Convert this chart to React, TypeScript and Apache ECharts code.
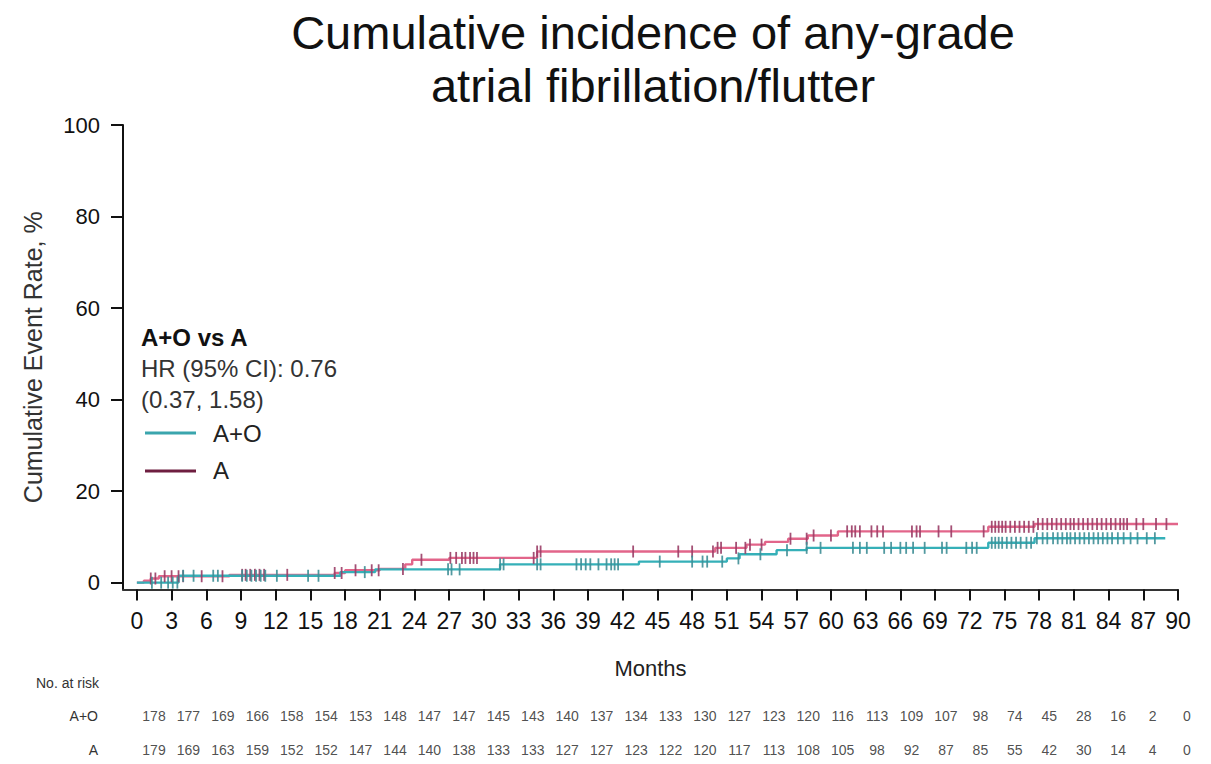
import React, { useEffect, useRef } from "react";
import * as echarts from "echarts";

// ---- tick labels ----
const xTicks = [0, 3, 6, 9, 12, 15, 18, 21, 24, 27, 30, 33, 36, 39, 42, 45, 48, 51, 54, 57, 60, 63, 66, 69, 72, 75, 78, 81, 84, 87, 90];
const yTicks = [0, 20, 40, 60, 80, 100];

// ---- step curves (time in months, cumulative event rate %) ----
const aoStepTimes = [0, 3.6, 17.6, 20.6, 31.4, 43.4, 51.0, 52.1, 55.3, 57.9, 73.6, 77.6];
const aoStepValues = [0, 1.5, 2.3, 2.9, 4.0, 4.6, 5.3, 6.2, 7.1, 7.6, 8.7, 9.7];
const aoEnd = 88.9;

const aStepTimes = [0, 0.6, 1.2, 1.9, 8.0, 17.1, 18.0, 21.0, 23.2, 23.8, 27.0, 34.6, 50.0, 52.7, 54.3, 56.3, 58.0, 60.6, 73.6, 77.6];
const aStepValues = [0, 0.4, 0.9, 1.4, 1.7, 2.1, 2.7, 3.0, 4.0, 5.0, 5.4, 6.8, 7.6, 8.3, 8.9, 9.6, 10.3, 11.2, 12.2, 12.8];
const aEnd = 90;

// ---- censoring times ----
const aoCensor = [1.3, 2.1, 2.7, 3.1, 3.5, 4.0, 4.9, 6.6, 7.0, 9.1, 9.5, 9.9, 10.3, 10.7, 11.1, 12.1, 14.8, 15.7, 19.7, 26.9, 27.2, 27.9, 31.4, 31.7, 34.6, 34.9, 38.0, 38.4, 38.8, 39.2, 39.9, 40.6, 41.0, 41.3, 41.6, 45.2, 48.0, 48.9, 49.3, 50.6, 52.0, 53.9, 56.2, 57.9, 59.1, 61.9, 62.5, 63.1, 64.6, 65.2, 66.0, 66.5, 67.1, 68.1, 69.6, 70.0, 71.7, 72.2, 72.6, 73.9, 74.2, 74.5, 74.8, 75.2, 75.6, 76.0, 76.4, 76.9, 77.3, 77.8, 78.3, 78.7, 79.2, 79.6, 80.0, 80.4, 80.7, 81.1, 81.5, 81.9, 82.3, 82.7, 83.1, 83.5, 83.9, 84.3, 84.8, 85.3, 85.9, 86.5, 87.3, 88.0];
const aCensor = [1.2, 1.6, 2.4, 3.0, 3.6, 4.0, 5.6, 7.4, 9.1, 9.4, 9.8, 10.2, 10.6, 11.0, 13.0, 17.1, 17.7, 18.9, 20.3, 20.9, 23.0, 24.6, 27.1, 27.6, 28.1, 28.4, 28.8, 29.1, 29.4, 34.3, 34.6, 34.9, 42.9, 46.8, 48.0, 49.8, 50.2, 50.5, 51.8, 52.6, 53.0, 54.0, 56.5, 57.9, 58.5, 60.0, 61.4, 61.8, 62.1, 62.5, 63.5, 64.0, 64.5, 67.0, 67.4, 67.7, 69.3, 70.4, 73.2, 73.9, 74.2, 74.5, 74.8, 75.1, 75.5, 75.9, 76.3, 76.7, 77.1, 77.5, 77.9, 78.3, 78.7, 79.1, 79.5, 79.9, 80.3, 80.7, 81.0, 81.4, 81.8, 82.2, 82.6, 83.0, 83.4, 83.8, 84.2, 84.6, 85.0, 85.3, 85.6, 86.4, 87.0, 88.1, 89.0];

// ---- numbers at risk ----
const riskAO = [178, 177, 169, 166, 158, 154, 153, 148, 147, 147, 145, 143, 140, 137, 134, 133, 130, 127, 123, 120, 116, 113, 109, 107, 98, 74, 45, 28, 16, 2, 0];
const riskA = [179, 169, 163, 159, 152, 152, 147, 144, 140, 138, 133, 133, 127, 127, 123, 122, 120, 117, 113, 108, 105, 98, 92, 87, 85, 55, 42, 30, 14, 4, 0];

const seriesNames = ["A+O", "A"];

function stepAt(times: number[], vals: number[], t: number) {
  let v = vals[0];
  for (let i = 0; i < times.length; i++) if (times[i] <= t) v = vals[i];
  return v;
}
function curve(times: number[], vals: number[], end: number) {
  const d = times.map((t, i) => [t, vals[i]]);
  d.push([end, vals[vals.length - 1]]);
  return d;
}

const FONT = "'Liberation Sans', Arial, sans-serif";
const AO_LINE = "#35b0b8";
const A_LINE = "#e2658a";
const AO_TICK = "#3f8e96";
const A_TICK = "#9a3d66";

export default function App() {
  const ref = useRef<HTMLDivElement>(null);
  useEffect(() => {
    if (!ref.current) return;
    const chart = echarts.init(ref.current, undefined, { renderer: "svg" });
    const riskLabel = {
      show: true,
      position: "inside",
      formatter: (p: any) => String(p.value[2]),
      fontSize: 14,
      color: "#222",
      fontFamily: FONT,
    };
    const text = (t: string, x: number, y: number, size: number, extra: any = {}) => ({
      type: "text",
      x,
      y,
      silent: true,
      style: {
        text: t,
        fontSize: size,
        fontFamily: FONT,
        fill: "#222",
        align: "left",
        verticalAlign: "middle",
        ...extra,
      },
    });
    const option: any = {
      animation: false,
      backgroundColor: "#fff",
      grid: [
        { left: 123, right: 33, top: 125, bottom: 174.5 },
        { left: 154, right: 24, top: 709, height: 14 },
        { left: 154, right: 24, top: 743, height: 14 },
      ],
      xAxis: [
        {
          type: "value",
          gridIndex: 0,
          min: -1.2,
          max: 90,
          axisLine: { show: true, onZero: false, lineStyle: { color: "#333", width: 2 } },
          axisTick: { show: true, customValues: xTicks, length: 11, lineStyle: { color: "#111", width: 2 } },
          axisLabel: { customValues: xTicks, fontSize: 23, color: "#111", margin: 20, fontFamily: FONT },
          splitLine: { show: false },
          name: "Months",
          nameLocation: "middle",
          nameGap: 68,
          nameTextStyle: { fontSize: 22, color: "#222", fontFamily: FONT },
        },
        { type: "value", gridIndex: 1, min: 0, max: 90, show: false },
        { type: "value", gridIndex: 2, min: 0, max: 90, show: false },
      ],
      yAxis: [
        {
          type: "value",
          gridIndex: 0,
          min: -1.5,
          max: 100,
          axisLine: { show: true, onZero: false, lineStyle: { color: "#111", width: 2 } },
          axisTick: { show: true, customValues: yTicks, length: 12, lineStyle: { color: "#111", width: 2 } },
          axisLabel: { customValues: yTicks, fontSize: 22, color: "#111", margin: 23, fontFamily: FONT },
          splitLine: { show: false },
          name: "Cumulative Event Rate, %",
          nameLocation: "middle",
          nameGap: 78,
          nameTextStyle: { fontSize: 25, color: "#333", fontFamily: FONT },
        },
        { type: "value", gridIndex: 1, min: 0, max: 1, show: false },
        { type: "value", gridIndex: 2, min: 0, max: 1, show: false },
      ],
      series: [
        {
          name: seriesNames[1],
          type: "line",
          step: "end",
          showSymbol: false,
          data: curve(aStepTimes, aStepValues, aEnd),
          lineStyle: { color: A_LINE, width: 2.4 },
          itemStyle: { color: A_LINE },
          z: 2,
          silent: true,
        },
        {
          name: seriesNames[0],
          type: "line",
          step: "end",
          showSymbol: false,
          data: curve(aoStepTimes, aoStepValues, aoEnd),
          lineStyle: { color: AO_LINE, width: 2.4 },
          itemStyle: { color: AO_LINE },
          z: 3,
          silent: true,
        },
        {
          name: seriesNames[1] + " censored",
          type: "scatter",
          symbol: "rect",
          symbolSize: [1.8, 12],
          data: aCensor.map((t) => [t, stepAt(aStepTimes, aStepValues, t)]),
          itemStyle: { color: A_TICK, opacity: 0.9 },
          z: 4,
          silent: true,
        },
        {
          name: seriesNames[0] + " censored",
          type: "scatter",
          symbol: "rect",
          symbolSize: [1.8, 12],
          data: aoCensor.map((t) => [t, stepAt(aoStepTimes, aoStepValues, t)]),
          itemStyle: { color: AO_TICK, opacity: 0.9 },
          z: 4,
          silent: true,
        },
        {
          name: "risk A+O",
          type: "scatter",
          xAxisIndex: 1,
          yAxisIndex: 1,
          symbolSize: 1,
          itemStyle: { color: "rgba(0,0,0,0)" },
          data: xTicks.map((m, i) => [m, 0.5, riskAO[i]]),
          label: riskLabel,
          silent: true,
        },
        {
          name: "risk A",
          type: "scatter",
          xAxisIndex: 2,
          yAxisIndex: 2,
          symbolSize: 1,
          itemStyle: { color: "rgba(0,0,0,0)" },
          data: xTicks.map((m, i) => [m, 0.5, riskA[i]]),
          label: riskLabel,
          silent: true,
        },
      ],
      graphic: [
        text("Cumulative incidence of any-grade", 653, 32, 47, { align: "center", fill: "#111" }),
        text("atrial fibrillation/flutter", 653, 85, 47, { align: "center", fill: "#111" }),
        text("A+O vs A", 141, 337, 24, { fontWeight: "bold", fill: "#111" }),
        text("HR (95% CI): 0.76", 141, 368, 24, { fill: "#333" }),
        text("(0.37, 1.58)", 141, 399, 24, { fill: "#333" }),
        {
          type: "line",
          silent: true,
          shape: { x1: 145, y1: 433, x2: 196, y2: 433 },
          style: { stroke: "#3aa5ad", lineWidth: 3 },
        },
        text(seriesNames[0], 213, 433, 24, { fill: "#222" }),
        {
          type: "line",
          silent: true,
          shape: { x1: 145, y1: 471, x2: 196, y2: 471 },
          style: { stroke: "#6e1e40", lineWidth: 3 },
        },
        text(seriesNames[1], 213, 470, 24, { fill: "#222" }),
        text("No. at risk", 36, 683, 14, { fill: "#333" }),
        text(seriesNames[0], 98, 716, 14, { align: "right", fill: "#333" }),
        text(seriesNames[1], 98, 750, 14, { align: "right", fill: "#333" }),
      ],
    };
    chart.setOption(option);
    return () => chart.dispose();
  }, []);
  return (
    <div
      ref={ref}
      style={{ position: "fixed", left: 0, top: 0, width: 1211, height: 764, background: "#fff" }}
    />
  );
}
